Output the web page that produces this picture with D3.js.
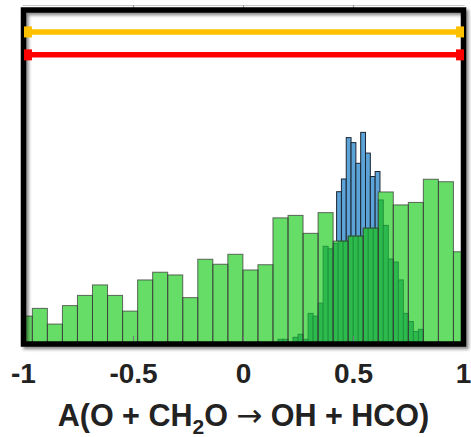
<!DOCTYPE html>
<html><head><meta charset="utf-8">
<script src="https://cdn.jsdelivr.net/npm/d3@7"></script>
<style>html,body{margin:0;padding:0;background:#fff;}svg{display:block;}</style>
</head><body>
<svg id="chart" width="471" height="437"></svg>
<script>
// ---- data ----
const xTicks = [-1, -0.5, 0, 0.5, 1];
const xTickLabels = ["-1", "-0.5", "0", "0.5", "1"];

// wide light-green histogram (bin start, width, counts)
const lightStart = -1.0282, lightWidth = 0.06836;
const lightCounts = [11.2, 14.3, 8.0, 15.4, 19.5, 23.7, 19.5, 13.2, 25.7, 28.8,
                     27.7, 18.6, 34.0, 32.0, 36.0, 29.7, 31.8, 50.6, 51.6, 44.4,
                     52.7, 41.3, 43.3, 46.5, 61.0, 55.8, 56.8, 66.1, 65.1, 37.0];

// narrow blue histogram (visible part)
const blueStart = 0.4232, blueWidth = 0.0219;
const blueCounts = [61.1, 66.2, 82.8, 80.8, 72.5, 84.9, 76.6, 67.2, 69.2];

// narrow dark-green histogram
const darkStart = 0.1568, darkWidth = 0.02279;
const darkCounts = [1.9, 1.9, 0, 2.7, 3.9, 1.9, 12.3, 11.2, 16.4, 39.2,
                    38.2, 40.4, 41.3, 41.3, 43.3, 43.3, 43.3, 46.5, 46.5, 46.5,
                    57.8, 47.6, 34.1, 32.9, 25.7, 12.3, 9.0, 5.0, 5.9];

// interval bars at top
const intervalLo = [-1, -1];
const intervalHi = [1, 1];
const intervalLevel = [125.2, 116.0];
const intervalColor = ["#ffc000", "#ff0000"];

// ---- layout ----
const svg = d3.select("#chart");
const x = d3.scaleLinear().domain([-1, 1]).range([23.5, 463.5]);
const y = d3.scaleLinear().domain([0, 134]).range([344, 10]);

const defs = svg.append("defs");
defs.append("clipPath").attr("id", "plotclip").append("rect")
  .attr("x", x(-1)).attr("y", y(134)).attr("width", x(1) - x(-1)).attr("height", y(0) - y(134));
const f = defs.append("filter").attr("id", "shadow").attr("x", "-5%").attr("y", "-5%").attr("width", "115%").attr("height", "115%");
f.append("feDropShadow").attr("dx", 2.5).attr("dy", 2.5).attr("stdDeviation", 1.5)
  .attr("flood-color", "#000").attr("flood-opacity", 0.45);

// top faint axis line
svg.append("line").attr("x1", x(-1) - 1).attr("x2", x(1) + 1).attr("y1", 5.5).attr("y2", 5.5)
  .attr("stroke", "#c9c9c9").attr("stroke-width", 1);
svg.selectAll(".ttick").data(xTicks.slice(1, -1)).enter().append("line")
  .attr("x1", d => x(d)).attr("x2", d => x(d)).attr("y1", 5).attr("y2", 8)
  .attr("stroke", "#999").attr("stroke-width", 1);

const plot = svg.append("g").attr("clip-path", "url(#plotclip)");

function bins(start, width, counts) {
  return counts.map((c, i) => ({ x0: start + i * width, x1: start + (i + 1) * width, v: c }));
}
const lightBins = bins(lightStart, lightWidth, lightCounts);
const blueBins = bins(blueStart, blueWidth, blueCounts);
const darkBins = bins(darkStart, darkWidth, darkCounts).filter(d => d.v > 0);

function drawBars(g, data, fill, stroke, sw, so) {
  g.selectAll(null).data(data).enter().append("rect")
    .attr("x", d => x(d.x0)).attr("width", d => x(d.x1) - x(d.x0))
    .attr("y", d => y(d.v)).attr("height", d => y(0) - y(d.v))
    .attr("fill", fill).attr("stroke", stroke).attr("stroke-width", sw)
    .attr("stroke-opacity", so);
}
drawBars(plot.append("g"), blueBins, "#5ca4d8", "#1c2533", 1, 1);
drawBars(plot.append("g"), lightBins, "#66dd66", "none", 0, 1);
drawBars(plot.append("g"), darkBins, "#2cba4c", "#1f8f3b", 0.9, 1);
// light-green outlines on top
drawBars(plot.append("g"), lightBins, "none", "#3a3a3a", 1, 0.75);

// inner bottom ticks
svg.selectAll(".btick").data(xTicks.slice(1, -1)).enter().append("line")
  .attr("x1", d => x(d)).attr("x2", d => x(d)).attr("y1", y(0) - 3).attr("y2", y(0) - 8)
  .attr("stroke", "#777").attr("stroke-width", 1);

// frame
svg.append("rect").attr("x", x(-1)).attr("y", y(134)).attr("width", x(1) - x(-1)).attr("height", y(0) - y(134))
  .attr("fill", "none").attr("stroke", "#000").attr("stroke-width", 5.5).attr("filter", "url(#shadow)");

// interval bars
intervalLo.forEach((lo, i) => {
  const hi = intervalHi[i], yy = y(intervalLevel[i]), c = intervalColor[i];
  svg.append("line").attr("x1", x(lo) + 2).attr("x2", x(hi) - 2).attr("y1", yy).attr("y2", yy)
    .attr("stroke", c).attr("stroke-width", 5.5);
  svg.append("rect").attr("x", x(lo) + 0.5).attr("y", yy - 5.5).attr("width", 8).attr("height", 11).attr("fill", c);
  svg.append("rect").attr("x", x(hi) - 7.5).attr("y", yy - 5.5).attr("width", 8).attr("height", 11).attr("fill", c);
});

// tick labels
svg.selectAll(".tl").data(xTicks).enter().append("text")
  .attr("x", d => x(d)).attr("y", 383)
  .attr("text-anchor", "middle")
  .attr("font-family", "'Liberation Sans', Arial, sans-serif").attr("font-weight", "bold")
  .attr("font-size", 28).attr("fill", "#222")
  .text((d, i) => xTickLabels[i]);

// axis title
const t = svg.append("text").attr("x", x(0)).attr("y", 426).attr("text-anchor", "middle")
  .attr("font-family", "'Liberation Sans', Arial, sans-serif").attr("font-weight", "bold")
  .attr("font-size", 30.5).attr("fill", "#222");
t.append("tspan").text("A(O + CH");
t.append("tspan").attr("font-size", 21).attr("dy", 8).text("2");
t.append("tspan").attr("dy", -8).text("O ");
t.append("tspan").attr("font-weight", "normal").attr("font-family", "'DejaVu Sans', sans-serif").attr("font-size", 31).text("\u2192");
t.append("tspan").text(" OH + HCO)");
</script>
</body></html>
